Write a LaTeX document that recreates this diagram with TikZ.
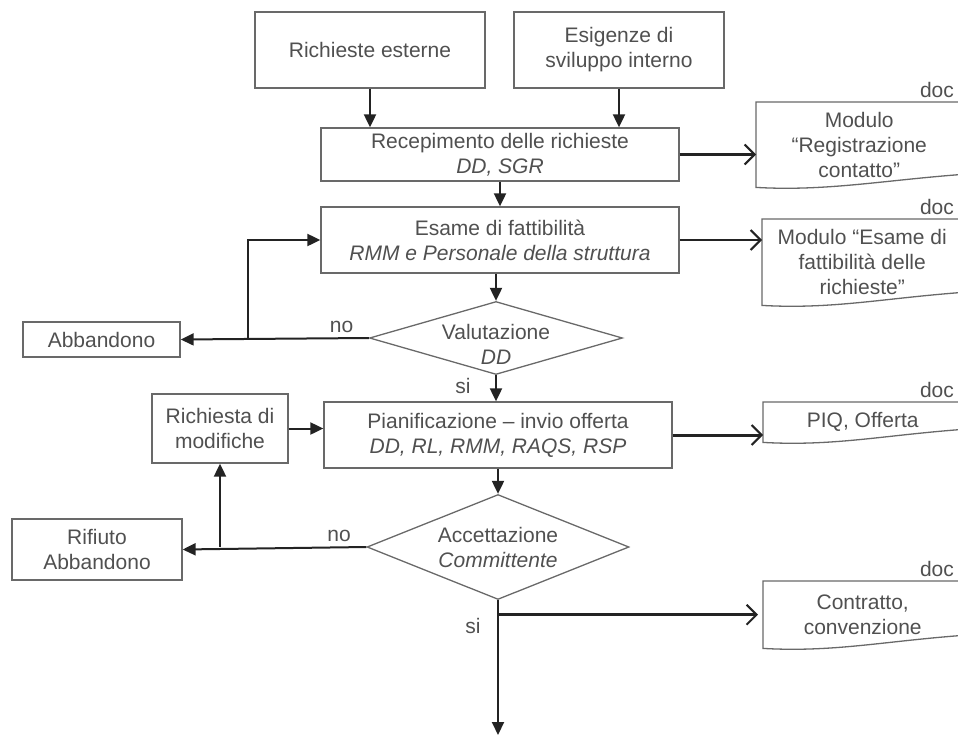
\documentclass[tikz,border=0pt]{standalone}
\usepackage{fontspec}
\setmainfont{Liberation Sans}
\definecolor{fcInk} {RGB}{ 35,  35,  35}
\definecolor{fcEdge}{RGB}{105, 105, 105}
\definecolor{fcText}{RGB}{ 80,  80,  80}
\usetikzlibrary{
  arrows.meta,
  positioning,
  shapes.geometric,
  calc,
}

\begin{document}
\begin{tikzpicture}[
  x=1pt, y=-1pt,
  >={Triangle[length=13pt, width=12pt]},
  txt/.style={font=\fontsize{21}{25}\selectfont, text=fcText, align=center},
  blk/.style={txt, draw=fcEdge, line width=1.3pt, fill=white,
              inner sep=2pt},
  dec/.style={diamond, draw=fcEdge, line width=1.3pt, inner sep=0pt},
  docbox/.style={txt, draw=none, anchor=north west, inner sep=0pt},
  docline/.style={draw=fcEdge, line width=1.3pt},
  flow/.style={->, line width=2pt, color=fcInk},
  % open barbs for the arrows that point at the documents
  docarrow/.style={-{Straight Barb[length=10pt, width=20pt, line width=2pt]},
              line width=2pt, color=fcInk},
  docarrowthick/.style={docarrow, line width=3pt},
  lbl/.style={txt},
]
  \useasboundingbox (0,0) rectangle (958,736);

  % Inputs
  \node[blk, minimum width=230pt, minimum height=76pt] (ext) at (370, 50)
       {Richieste esterne};
  \node[blk, minimum width=210pt, minimum height=76pt] (int) at (619, 50)
       {Esigenze di\\sviluppo interno};

  % Main column
  \node[blk, minimum width=358pt, minimum height=53pt] (rec) at (500, 154.5)
       {Recepimento delle richieste\\\textit{DD, SGR}};
  \node[blk, minimum width=358pt, minimum height=66pt] (fatt) at (500, 240)
       {Esame di fattibilità\\\textit{RMM e Personale della struttura}};
  \node[dec, minimum width=253pt, minimum height=73pt] (val) at (496, 338) {};
  \node[txt, yshift=-6pt] (valt) at (val) {Valutazione\\\textit{DD}};
  \node[blk, minimum width=348pt, minimum height=66pt] (pian) at (498, 435)
       {Pianificazione – invio offerta\\\textit{DD, RL, RMM, RAQS, RSP}};
  \node[dec, minimum width=262pt, minimum height=105pt] (acc) at (498, 547) {};
  \node[txt] (acct) at (acc) {Accettazione\\\textit{Committente}};
  \coordinate (fine) at (498, 735);

  % Left side
  \node[blk, minimum width=157pt, minimum height=35pt] (abb) at (101.5, 339.5)
       {Abbandono};
  \node[blk, minimum width=136pt, minimum height=69pt] (mod) at (220, 428.5)
       {Richiesta di\\modifiche};
  \node[blk, minimum width=170pt, minimum height=61pt] (rif) at (97, 549.5)
       {Rifiuto\\Abbandono};

  % Documents (right edge runs off the page)
  \node[docbox, minimum width=206pt, minimum height=85pt] (d1) at (756, 102)
       {Modulo\\“Registrazione\\contatto”};
  \node[docbox, minimum width=200pt, minimum height=86pt] (d2) at (762, 219)
       {Modulo “Esame di\\fattibilità delle\\richieste”};
  \node[docbox, minimum width=199pt, minimum height=40pt] (d3) at (763, 402)
       {PIQ, Offerta};
  \node[docbox, minimum width=199pt, minimum height=67pt] (d4) at (763, 581)
       {Contratto,\\convenzione};

  \foreach \d in {d1, d2, d3, d4} {
    \draw[docline] (\d.north east) -- (\d.north west) -- (\d.south west)
      .. controls +(70, 4) and +(-80, 6) .. ($(\d.south east)+(0,-13)$);
    \node[lbl, above left=1pt and 5pt of \d.north east] (\d lbl) {doc};
  }

  % Flow
  \draw[flow] (ext.south) -- (ext.south |- rec.north);
  \draw[flow] (int.south) -- (int.south |- rec.north);
  \draw[flow] (rec.south) -- (fatt.north);
  \draw[flow] (val.north |- fatt.south) -- (val.north);
  \draw[flow] (val.south) -- (val.south |- pian.north);
  \draw[flow] (pian.south) -- (acc.north);
  \draw[flow] (acc.south) -- (fine);

  % Refusals and loops back
  \coordinate (jval) at (248, 338);
  \draw[flow] (val.west) -- (abb.east);
  \draw[flow] (jval) |- (fatt.west);
  \draw[flow] (acc.west) -- (rif.east);
  \draw[flow] (acc.west -| mod.south) -- (mod.south);
  \draw[flow] (mod.east) -- (mod.east -| pian.west);

  % Outputs to documents
  \draw[docarrowthick] (rec.east)  -- (rec.east -| d1.west);
  \draw[docarrow]      (fatt.east) -- (fatt.east -| d2.west);
  \draw[docarrowthick] (pian.east) -- (pian.east -| d3.west);
  \coordinate (jacc) at (acc.south |- d4.west);
  \draw[docarrowthick] (jacc) -- ([xshift=-5pt]d4.west);

  % Branch labels
  \node[lbl, above left=2pt and 12pt of val.west] (no1) {no};
  \node[lbl, above left=2pt and 12pt of acc.west] (no2) {no};
  \node[lbl, below left=0pt and 22pt of val.south] (si1) {si};
  \node[lbl, below left=0pt and 14pt of jacc] (si2) {si};
\end{tikzpicture}
\end{document}
